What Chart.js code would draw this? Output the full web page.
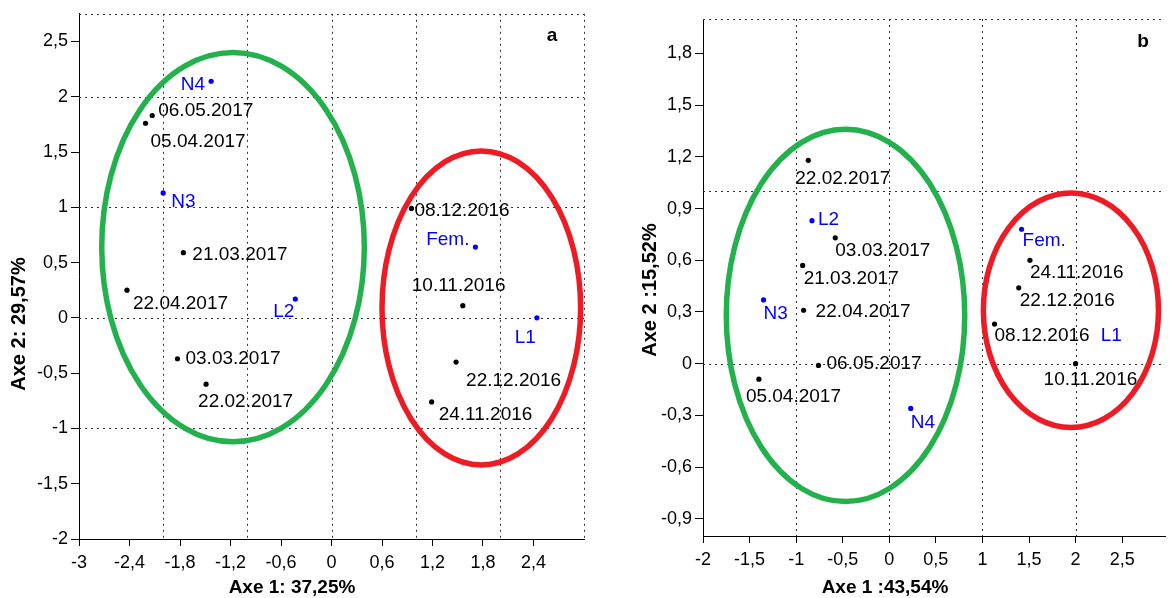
<!DOCTYPE html>
<html lang="fr">
<head>
  <meta charset="UTF-8" />
  <title>ACP - Axe 1 / Axe 2</title>
  <script src="https://cdn.jsdelivr.net/npm/chart.js"></script>
  <style>
    body { margin: 0; background: #fff; width: 1169px; height: 598px; position: relative; overflow: hidden; }
    canvas { position: absolute; top: 0; }
    #chartA { left: 0; }
    #chartB { left: 620px; }
  </style>
</head>
<body>
  <canvas id="chartA" width="600" height="598"></canvas>
  <canvas id="chartB" width="549" height="598"></canvas>

  <script>
    // ---- panel a ----
    const namesA = ["N4", "06.05.2017", "05.04.2017", "N3", "21.03.2017", "22.04.2017", "L2", "03.03.2017",
                    "22.02.2017", "08.12.2016", "Fem.", "10.11.2016", "L1", "22.12.2016", "24.11.2016"];
    const axe1A = [-1.43, -2.13, -2.21, -2.00, -1.76, -2.43, -0.43, -1.83, -1.49, 0.95, 1.71, 1.56, 2.44, 1.48, 1.19];
    const axe2A = [2.14, 1.83, 1.76, 1.13, 0.59, 0.25, 0.17, -0.37, -0.60, 0.99, 0.64, 0.11, 0.00, -0.40, -0.76];
    const kindA = ["var", "date", "date", "var", "date", "date", "var", "date", "date", "date", "var", "date", "var", "date", "date"];
    const ticksXA = [-3, -2.4, -1.8, -1.2, -0.6, 0, 0.6, 1.2, 1.8, 2.4];
    const ticksYA = [-2, -1.5, -1, -0.5, 0, 0.5, 1, 1.5, 2, 2.5];
    const gridXA = [-2, -1, 0, 1, 2, 3];
    const gridYA = [-1, 0, 1, 2];
    const ellCxA = [-1.17, 1.78];
    const ellCyA = [0.64, 0.09];
    const ellRxA = [1.56, 1.18];
    const ellRyA = [1.76, 1.42];

    // ---- panel b ----
    const namesB = ["22.02.2017", "L2", "03.03.2017", "21.03.2017", "N3", "22.04.2017", "06.05.2017", "05.04.2017",
                    "N4", "Fem.", "24.11.2016", "22.12.2016", "08.12.2016", "L1", "10.11.2016"];
    const axe1B = [-0.87, -0.83, -0.58, -0.93, -1.35, -0.92, -0.76, -1.40, 0.23, 1.42, 1.51, 1.39, 1.13, 2.27, 2.00];
    const axe2B = [1.18, 0.83, 0.73, 0.57, 0.37, 0.31, -0.01, -0.09, -0.26, 0.78, 0.60, 0.44, 0.23, 0.23, 0.00];
    const kindB = ["date", "var", "date", "date", "var", "date", "date", "date", "var", "var", "date", "date", "date", "var", "date"];
    const noDotB = ["L1"];
    const ticksXB = [-2, -1.5, -1, -0.5, 0, 0.5, 1, 1.5, 2, 2.5];
    const ticksYB = [-0.9, -0.6, -0.3, 0, 0.3, 0.6, 0.9, 1.2, 1.5, 1.8];
    const gridXB = [-1, 0, 1, 2];
    const gridYB = [0, 1];
    const ellCxB = [-0.47, 1.95];
    const ellCyB = [0.28, 0.31];
    const ellRxB = [1.28, 0.94];
    const ellRyB = [1.08, 0.68];

    // label placement (pixels from the dot: dx, dy, align)
    const offA = [[-6, 4, "right"], [6, -5, "left"], [5, 19, "left"], [8, 9, "left"], [9, 2, "left"], [6, 14, "left"],
                  [-1, 13, "right"], [8, 0, "left"], [-8, 18, "left"], [3, 2, "left"], [-6, -7, "right"],
                  [-51, -20, "left"], [-1, 20, "right"], [10, 19, "left"], [7, 13, "left"]];
    const offB = [[-13, 18, "left"], [6, -1, "left"], [0, 13, "left"], [1, 13, "left"], [0, 14, "left"], [12, 2, "left"],
                  [8, -2, "left"], [-13, 18, "left"], [0, 14, "left"], [1, 12, "left"], [0, 12, "left"],
                  [1, 13, "left"], [0, 12, "left"], [0, 12, "left"], [-32, 16, "left"]];

    const BLUE = "#0000ff";
    const ELL_COLORS = ["#22b14c", "#ed1c24"];
    const FONT = "'Liberation Sans', Arial, sans-serif";

    function fmt(v) {
      return String(Math.round(v * 10) / 10).replace(".", ",");
    }

    function makePanel(id, p) {
      const pts = p.x.map((x, i) => ({ x: x, y: p.y[i] }));

      const decor = {
        id: "decor",
        beforeDatasetsDraw(chart) {
          const ctx = chart.ctx, a = chart.chartArea;
          const sx = chart.scales.x, sy = chart.scales.y;
          ctx.save();
          ctx.strokeStyle = "#333";
          ctx.lineWidth = 1;
          ctx.setLineDash([2, 4]);
          ctx.beginPath();
          p.gridX.forEach(v => {
            const px = Math.round(sx.getPixelForValue(v)) + 0.5;
            ctx.moveTo(px, a.top); ctx.lineTo(px, a.bottom);
          });
          p.gridY.forEach(v => {
            const py = Math.round(sy.getPixelForValue(v)) + 0.5;
            ctx.moveTo(a.left, py); ctx.lineTo(a.right, py);
          });
          ctx.moveTo(a.left, Math.round(a.top) + 0.5); ctx.lineTo(a.right, Math.round(a.top) + 0.5);
          ctx.stroke();
          ctx.setLineDash([]);

          // group ellipses
          ctx.lineWidth = 5.5;
          p.ell.cx.forEach((cx, i) => {
            const px = sx.getPixelForValue(cx), py = sy.getPixelForValue(p.ell.cy[i]);
            const rx = Math.abs(sx.getPixelForValue(cx + p.ell.rx[i]) - px);
            const ry = Math.abs(sy.getPixelForValue(p.ell.cy[i] + p.ell.ry[i]) - py);
            ctx.strokeStyle = ELL_COLORS[i];
            ctx.beginPath();
            ctx.ellipse(px, py, rx, ry, 0, 0, Math.PI * 2);
            ctx.stroke();
          });
          ctx.restore();
        },
        afterDatasetsDraw(chart) {
          const ctx = chart.ctx;
          const sx = chart.scales.x, sy = chart.scales.y;
          ctx.save();
          ctx.font = "19px " + FONT;
          ctx.textBaseline = "middle";
          p.names.forEach((n, i) => {
            const o = p.off[i];
            ctx.fillStyle = p.kind[i] === "var" ? BLUE : "#000";
            ctx.textAlign = o[2];
            ctx.fillText(n, sx.getPixelForValue(p.x[i]) + o[0], sy.getPixelForValue(p.y[i]) + o[1]);
          });

          // axis titles and panel letter
          ctx.fillStyle = "#000";
          ctx.textAlign = "center";
          ctx.font = "bold 19px " + FONT;
          ctx.fillText(p.titleX, p.titleXPos[0], p.titleXPos[1]);
          ctx.fillText(p.letter, p.letterPos[0], p.letterPos[1]);
          ctx.save();
          ctx.translate(p.titleYPos[0], p.titleYPos[1]);
          ctx.rotate(-Math.PI / 2);
          ctx.font = "bold 20px " + FONT;
          ctx.fillText(p.titleY, 0, 0);
          ctx.restore();
          ctx.restore();
        }
      };

      const tickFont = { family: FONT, size: 18 };

      return new Chart(document.getElementById(id), {
        type: "scatter",
        data: {
          datasets: [{
            data: pts,
            pointRadius: p.names.map(n => p.noDot.includes(n) ? 0 : 2.6),
            pointBackgroundColor: p.kind.map(k => k === "var" ? BLUE : "#000"),
            pointBorderWidth: 0
          }]
        },
        options: {
          responsive: false,
          animation: false,
          events: [],
          layout: { padding: p.pad },
          plugins: { legend: { display: false }, tooltip: { enabled: false } },
          scales: {
            x: {
              type: "linear",
              min: p.xMin,
              max: p.xMax,
              afterBuildTicks: s => { s.ticks = p.ticksX.map(v => ({ value: v })); },
              afterFit: s => { s.height = p.xAxisH; },
              ticks: { callback: fmt, font: tickFont, color: "#000", padding: 6, maxRotation: 0, autoSkip: false },
              grid: { drawOnChartArea: false, color: "#000", tickLength: 7 },
              border: { color: "#000", width: 1 }
            },
            y: {
              type: "linear",
              min: p.yMin,
              max: p.yMax,
              afterBuildTicks: s => { s.ticks = p.ticksY.map(v => ({ value: v })); },
              afterFit: s => { s.width = p.yAxisW; },
              ticks: { callback: fmt, font: tickFont, color: "#000", padding: 3, autoSkip: false },
              grid: { drawOnChartArea: false, color: "#000", tickLength: 8 },
              border: { color: "#000", width: 1 }
            }
          }
        },
        plugins: [decor]
      });
    }

    makePanel("chartA", {
      names: namesA, x: axe1A, y: axe2A, kind: kindA, off: offA, noDot: [],
      ticksX: ticksXA, ticksY: ticksYA, gridX: gridXA, gridY: gridYA,
      ell: { cx: ellCxA, cy: ellCyA, rx: ellRxA, ry: ellRyA },
      xMin: -3, xMax: 3, yMin: -2, yMax: 2.75,
      pad: { top: 12, right: 16, left: 0, bottom: 0 }, yAxisW: 79, xAxisH: 59,
      titleX: "Axe 1: 37,25%", titleXPos: [292, 588],
      titleY: "Axe 2: 29,57%", titleYPos: [19, 324],
      letter: "a", letterPos: [552, 36]
    });

    makePanel("chartB", {
      names: namesB, x: axe1B, y: axe2B, kind: kindB, off: offB, noDot: noDotB,
      ticksX: ticksXB, ticksY: ticksYB, gridX: gridXB, gridY: gridYB,
      ell: { cx: ellCxB, cy: ellCyB, rx: ellRxB, ry: ellRyB },
      xMin: -2, xMax: 2.96, yMin: -1, yMax: 2,
      pad: { top: 19, right: 1, left: 0, bottom: 0 }, yAxisW: 83, xAxisH: 62,
      titleX: "Axe 1 :43,54%", titleXPos: [265, 588],
      titleY: "Axe 2 :15,52%", titleYPos: [30, 290],
      letter: "b", letterPos: [523, 42]
    });
  </script>
</body>
</html>
